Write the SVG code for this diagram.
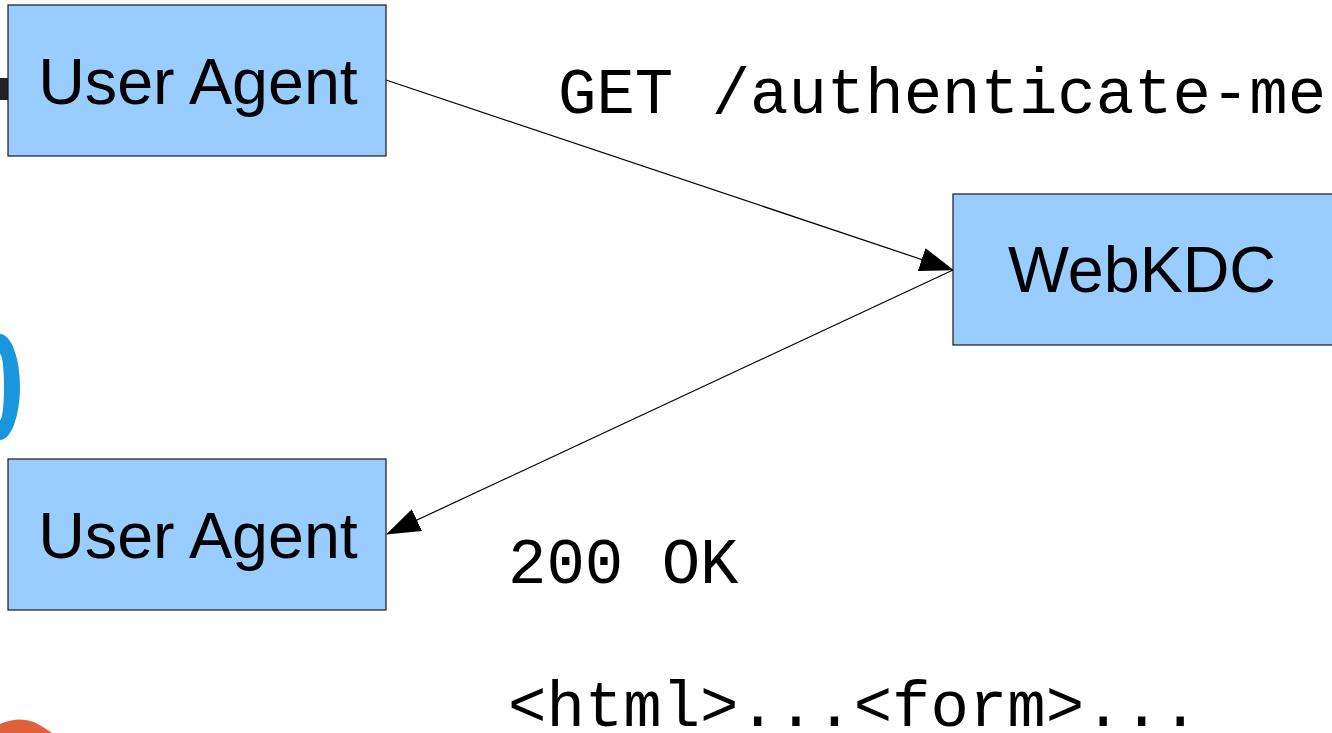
<svg xmlns="http://www.w3.org/2000/svg" width="1332" height="733" viewBox="0 0 1332 733">
<style>
.box{fill:#99ccff;stroke:#1a1a1a;stroke-width:1.2}
.lbl{font-family:"Liberation Sans",Arial,sans-serif;font-size:64.6px;fill:#000}
.mono{font-family:"Liberation Mono","Courier New",monospace;font-size:64px;fill:#000}
.edge{stroke:#000;stroke-width:1.2;fill:none}
</style>
<defs>
<marker id="ah" markerWidth="34" markerHeight="24" refX="33" refY="12" orient="auto" markerUnits="userSpaceOnUse">
<path d="M0,0 L34,12 L0,24 Z" fill="#000"/>
</marker>
</defs>
<rect width="1332" height="733" fill="#fff"/>
<g id="bg-fragments">
<rect x="0" y="78" width="10" height="22" fill="#222"/>
<path d="M0,334 A20,53 0 0 1 0,440 L0,420 A4,33 0 0 0 0,354 Z" fill="#1a96dc"/>
<path d="M0,724 Q18,716 34,722 Q44,727 52,733 L0,733 Z" fill="#e0603a"/>
</g>
<g id="connectors">
<line class="edge" x1="386" y1="80" x2="953" y2="270" marker-end="url(#ah)"/>
<line class="edge" x1="953" y1="270" x2="387" y2="534" marker-end="url(#ah)"/>
</g>
<g id="ua1">
<rect class="box" x="8" y="5" width="378" height="151"/>
<text class="lbl" x="198" y="104" text-anchor="middle">User Agent</text>
</g>
<g id="webkdc">
<rect class="box" x="953" y="194" width="380" height="151"/>
<text class="lbl" x="1142" y="292" text-anchor="middle">WebKDC</text>
</g>
<g id="ua2">
<rect class="box" x="8" y="459" width="378" height="151"/>
<text class="lbl" x="198" y="558" text-anchor="middle">User Agent</text>
</g>
<g id="labels">
<text class="mono" x="558" y="113">GET /authenticate-me</text>
<text class="mono" x="508" y="583">200 OK</text>
<text class="mono" x="508" y="726">&lt;html&gt;...&lt;form&gt;...</text>
</g>
</svg>
